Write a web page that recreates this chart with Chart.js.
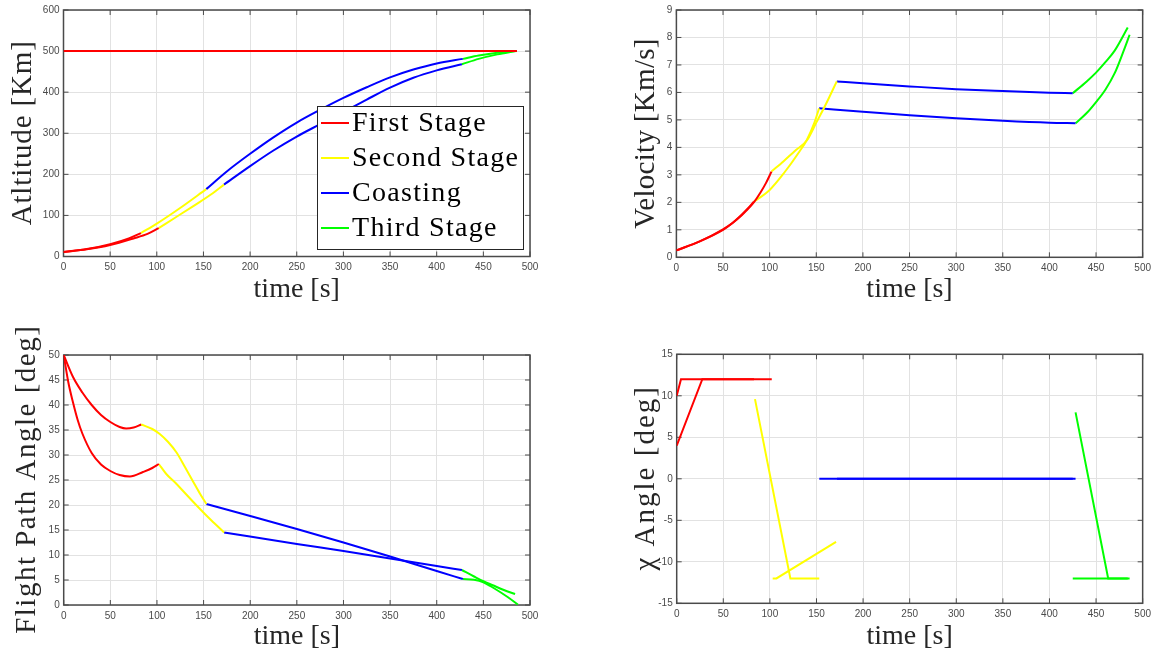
<!DOCTYPE html>
<html>
<head>
<meta charset="utf-8">
<title>Launch trajectory</title>
<script src="https://cdn.jsdelivr.net/npm/chart.js@4.4.1/dist/chart.umd.min.js"></script>
<style>
  html, body { margin: 0; padding: 0; background: #fff; }
  body { position: relative; width: 1156px; height: 656px; overflow: hidden; }
  canvas { position: absolute; }
</style>
</head>
<body>
<canvas id="chart-alt" width="578" height="320" style="left:0;top:0"></canvas>
<canvas id="chart-vel" width="578" height="320" style="left:578px;top:0"></canvas>
<canvas id="chart-fpa" width="578" height="336" style="left:0;top:320px"></canvas>
<canvas id="chart-chi" width="578" height="336" style="left:578px;top:320px"></canvas>
<script>
"use strict";

// ── Stages ──
const stageNames  = ["First Stage", "Second Stage", "Coasting", "Third Stage"];
const stageColors = ["#ff0000", "#ffff00", "#0000ff", "#00ff00"];

// ── Altitude [Km]  ([time s, value]) ──
const altFirstA  = [[0, 11], [25, 18], [50, 30], [70, 44], [83, 57]];
const altFirstB  = [[0, 11], [25, 17.5], [50, 28], [75, 44], [90, 55], [102, 69]];
const altSecondA = [[83, 57], [100, 80], [125, 118], [153, 164]];
const altSecondB = [[102, 69], [120, 95], [140, 124], [160, 154], [172, 175]];
const altCoastA  = [[153, 164], [175, 207], [200, 250], [225, 290], [250, 326], [275, 357],
                    [300, 386], [325, 412], [350, 436], [375, 455], [400, 470], [428, 481]];
const altCoastB  = [[172, 175], [200, 220], [225, 258], [250, 292], [275, 322], [300, 352],
                    [325, 382], [350, 411], [375, 435], [400, 453], [427, 468]];
const altThirdA  = [[428, 481], [445, 489], [465, 496], [486, 500]];
const altThirdB  = [[427, 468], [445, 481], [465, 492], [484, 500]];
const altTarget  = [[0, 500], [486, 500]];

// ── Velocity [Km/s] ──
const velFirstA  = [[0, 0.25], [25, 0.58], [50, 1.02], [60, 1.25], [70, 1.55], [75, 1.72], [83, 2.02]];
const velFirstB  = [[0, 0.25], [25, 0.58], [50, 1.0], [60, 1.24], [70, 1.53], [75, 1.7], [83, 2.0],
                    [90, 2.35], [96, 2.7], [102, 3.12]];
const velSecondA = [[83, 2.02], [100, 2.45], [115, 3.05], [132, 3.85], [140, 4.28], [148, 4.9], [153, 5.42]];
const velSecondB = [[102, 3.12], [115, 3.5], [127, 3.87], [140, 4.26], [150, 4.9], [160, 5.55], [172, 6.4]];
const velCoastA  = [[153, 5.42], [200, 5.3], [250, 5.17], [300, 5.06], [350, 4.97], [400, 4.9], [428, 4.88]];
const velCoastB  = [[172, 6.4], [200, 6.33], [250, 6.22], [300, 6.12], [350, 6.05], [400, 5.99], [425, 5.97]];
const velThirdA  = [[428, 4.88], [440, 5.25], [450, 5.65], [460, 6.1], [470, 6.7], [480, 7.55], [486, 8.1]];
const velThirdB  = [[425, 5.97], [440, 6.4], [450, 6.72], [460, 7.1], [470, 7.52], [484, 8.36]];

// ── Flight path angle [deg] ──
const fpaFirstA  = [[0, 50], [10, 45.6], [20, 42.5], [30, 40.0], [40, 38.0], [50, 36.6],
                    [60, 35.6], [67, 35.3], [75, 35.5], [83, 36.1]];
const fpaFirstB  = [[0, 50], [5, 44.5], [10, 40.5], [15, 37], [20, 34.3], [30, 30.4], [40, 28.1],
                    [50, 26.8], [60, 26.0], [71, 25.7], [85, 26.6], [95, 27.4], [102, 28.2]];
const fpaSecondA = [[83, 36.1], [95, 35.2], [103, 34.2], [112, 32.6], [121, 30.5], [130, 27.6],
                    [139, 24.6], [146, 22.3], [153, 20.2]];
const fpaSecondB = [[102, 28.2], [110, 26.2], [121, 24.2], [130, 22.4], [139, 20.6], [153, 17.9],
                    [163, 16.1], [172, 14.5]];
const fpaCoastA  = [[153, 20.2], [200, 17.8], [250, 15.2], [300, 12.5], [350, 9.7], [400, 6.8], [428, 5.2]];
const fpaCoastB  = [[172, 14.5], [250, 12.2], [300, 10.8], [350, 9.3], [400, 7.8], [427, 7.0]];
const fpaThirdA  = [[428, 5.2], [440, 5.05], [450, 4.55], [461, 3.4], [476, 1.6], [487, 0.1]];
const fpaThirdB  = [[427, 7.0], [440, 5.7], [450, 4.75], [460, 3.95], [472, 3.0], [484, 2.2]];

// ── χ angle [deg] ──
const chiFirstA  = [[0, 10], [4.6, 12], [83, 12]];
const chiFirstB  = [[0, 4], [27.5, 12], [102, 12]];
const chiSecondA = [[84, 9.6], [122, -12], [153, -12]];
const chiSecondB = [[103, -12], [107, -12], [171, -7.6]];
const chiCoastA  = [[153, 0], [428, 0]];
const chiCoastB  = [[172, 0], [425, 0]];
const chiThirdA  = [[428, 8], [463, -12], [486, -12]];
const chiThirdB  = [[425, -12], [484, -12]];

// ── Style ──
const SERIF  = '"Liberation Serif", "Times New Roman", serif';
const SANS   = '"Liberation Sans", Arial, sans-serif';
const INK    = "#262626";
const TICK   = "#4a4a4a";
const GRID   = "#e2e2e2";

// ── Helpers ──
function seg(points, stage, smooth) {
  return {
    data: points.map(([x, y]) => ({ x, y })),
    borderColor: stageColors[stage],
    borderWidth: 2,
    pointRadius: 0,
    fill: false,
    tension: smooth ? 0.4 : 0,
    cubicInterpolationMode: smooth ? "monotone" : "default",
  };
}

// box round the axes with inward ticks on all four sides
const axesBox = {
  id: "axesBox",
  beforeDatasetsDraw(chart) {
    const { ctx, chartArea: a, scales: { x, y } } = chart;
    ctx.save();
    ctx.strokeStyle = TICK;
    ctx.lineWidth = 1;
    ctx.beginPath();
    x.ticks.forEach(t => {
      const px = x.getPixelForValue(t.value);
      ctx.moveTo(px, a.bottom); ctx.lineTo(px, a.bottom - 5);
      ctx.moveTo(px, a.top);    ctx.lineTo(px, a.top + 5);
    });
    y.ticks.forEach(t => {
      const py = y.getPixelForValue(t.value);
      ctx.moveTo(a.left, py);  ctx.lineTo(a.left + 5, py);
      ctx.moveTo(a.right, py); ctx.lineTo(a.right - 5, py);
    });
    ctx.stroke();
    ctx.lineWidth = 1.5;
    ctx.strokeRect(a.left, a.top, a.right - a.left, a.bottom - a.top);
    ctx.restore();
  },
};

// rotated y label, spaced out a little to get closer to the LaTeX font width
const yTitle = {
  id: "yTitle",
  afterDraw(chart, args, opts) {
    const { ctx, chartArea: a } = chart;
    ctx.save();
    ctx.translate(opts.x, (a.top + a.bottom) / 2);
    ctx.rotate(-Math.PI / 2);
    ctx.font = `${opts.size}px ${SERIF}`;
    if ("letterSpacing" in ctx) ctx.letterSpacing = `${opts.spacing}px`;
    ctx.fillStyle = INK;
    ctx.textAlign = "center";
    ctx.textBaseline = "middle";
    ctx.fillText(opts.text, opts.spacing / 2, 0);
    ctx.restore();
  },
};

// MATLAB style legend box, bottom-right inside the altitude axes
const stageLegend = {
  id: "stageLegend",
  afterDatasetsDraw(chart) {
    const { ctx, chartArea: a } = chart;
    const w = 206, h = 143;
    const left = a.right - 7 - w, top = a.bottom - 7.5 - h;
    ctx.save();
    ctx.fillStyle = "#fff";
    ctx.fillRect(left, top, w, h);
    ctx.strokeStyle = INK;
    ctx.lineWidth = 1;
    ctx.strokeRect(left + 0.5, top + 0.5, w, h);
    ctx.font = `28px ${SERIF}`;
    if ("letterSpacing" in ctx) ctx.letterSpacing = "1.3px";
    ctx.textBaseline = "middle";
    ctx.textAlign = "left";
    stageNames.forEach((name, i) => {
      const cy = top + 17 + i * 35;
      ctx.strokeStyle = stageColors[i];
      ctx.lineWidth = 2;
      ctx.beginPath();
      ctx.moveTo(left + 4, cy);
      ctx.lineTo(left + 32, cy);
      ctx.stroke();
      ctx.fillStyle = "#000";
      ctx.fillText(name, left + 35, cy + 1);
    });
    ctx.restore();
  },
};

function makeChart(id, cfg) {
  const ctx = document.getElementById(id).getContext("2d");
  return new Chart(ctx, {
    type: "line",
    data: { datasets: cfg.datasets },
    options: {
      responsive: false,
      animation: false,
      events: [],
      layout: { padding: cfg.padding },
      plugins: {
        legend: { display: false },
        tooltip: { enabled: false },
        yTitle: cfg.title,
      },
      scales: {
        x: {
          type: "linear",
          min: 0, max: 500,
          ticks: { stepSize: 50, color: TICK, font: { family: SANS, size: 10 }, padding: 5, maxRotation: 0 },
          grid: { color: GRID, drawTicks: false },
          border: { display: false },
          title: { display: true, text: "time [s]", color: INK, font: { family: SERIF, size: 28 }, padding: 0 },
          afterFit(s) { s.height = cfg.xh; },
        },
        y: {
          type: "linear",
          min: cfg.yMin, max: cfg.yMax,
          ticks: { stepSize: cfg.yStep, color: TICK, font: { family: SANS, size: 10 }, padding: 4, autoSkip: false },
          grid: { color: GRID, drawTicks: false },
          border: { display: false },
          afterFit(s) { s.width = cfg.yw; },
        },
      },
    },
    plugins: cfg.legend ? [axesBox, yTitle, stageLegend] : [axesBox, yTitle],
  });
}

// ── Charts ──
makeChart("chart-alt", {
  title: { text: "Atltitude [Km]", x: 23, size: 29, spacing: 0.85 },
  yMin: 0, yMax: 600, yStep: 100,
  padding: { left: 0, top: 8.5, right: 48, bottom: 13.2 }, yw: 63.5, xh: 50.3,
  legend: true,
  datasets: [
    seg(altTarget, 0, false),
    seg(altFirstA, 0, true),  seg(altFirstB, 0, true),
    seg(altSecondA, 1, true), seg(altSecondB, 1, true),
    seg(altCoastA, 2, true),  seg(altCoastB, 2, true),
    seg(altThirdA, 3, true),  seg(altThirdB, 3, true),
  ],
});

makeChart("chart-vel", {
  title: { text: "Velocity [Km/s]", x: 68, size: 29, spacing: 0.3 },
  yMin: 0, yMax: 9, yStep: 1,
  padding: { left: 0, top: 8.3, right: 13, bottom: 13.2 }, yw: 98.4, xh: 49.5,
  datasets: [
    seg(velFirstA, 0, true),  seg(velFirstB, 0, true),
    seg(velSecondA, 1, true), seg(velSecondB, 1, true),
    seg(velCoastA, 2, true),  seg(velCoastB, 2, true),
    seg(velThirdA, 3, true),  seg(velThirdB, 3, true),
  ],
});

makeChart("chart-fpa", {
  title: { text: "Flight Path Angle [deg]", x: 27, size: 29, spacing: 1.5 },
  yMin: 0, yMax: 50, yStep: 5,
  padding: { left: 0, top: 35, right: 48, bottom: 2.2 }, yw: 63.7, xh: 48.8,
  datasets: [
    seg(fpaFirstA, 0, true),  seg(fpaFirstB, 0, true),
    seg(fpaSecondA, 1, true), seg(fpaSecondB, 1, true),
    seg(fpaCoastA, 2, true),  seg(fpaCoastB, 2, true),
    seg(fpaThirdA, 3, true),  seg(fpaThirdB, 3, true),
  ],
});

makeChart("chart-chi", {
  title: { text: "χ Angle [deg]", x: 68, size: 29, spacing: 2 },
  yMin: -15, yMax: 15, yStep: 5,
  padding: { left: 0, top: 34.3, right: 12.7, bottom: 2.2 }, yw: 98.7, xh: 50.5,
  datasets: [
    seg(chiFirstA, 0, false),  seg(chiFirstB, 0, false),
    seg(chiSecondA, 1, false), seg(chiSecondB, 1, false),
    seg(chiCoastA, 2, false),  seg(chiCoastB, 2, false),
    seg(chiThirdA, 3, false),  seg(chiThirdB, 3, false),
  ],
});
</script>
</body>
</html>
